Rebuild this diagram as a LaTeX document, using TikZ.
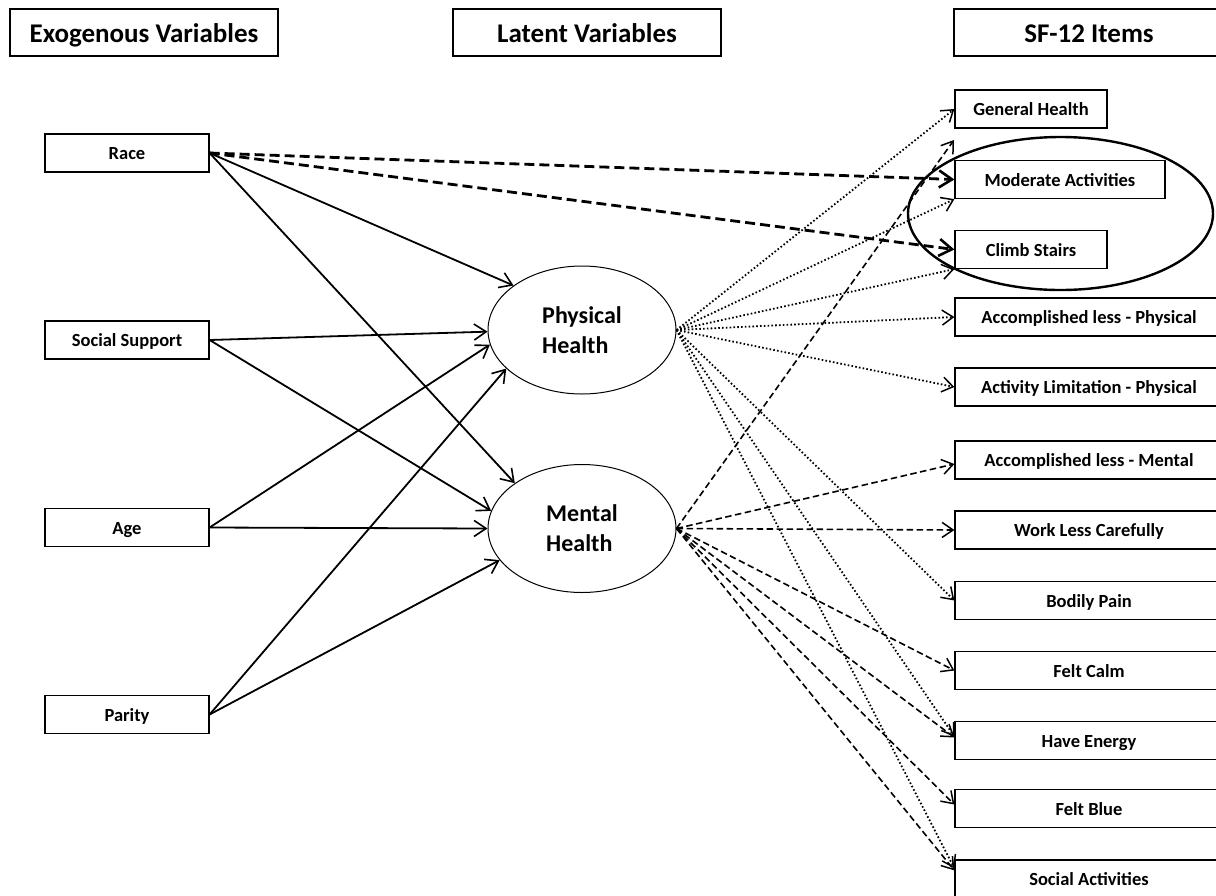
\documentclass[tikz,border=0pt]{standalone}
\usepackage{fontspec}
\setmainfont{Carlito}
\usetikzlibrary{arrows.meta,shapes.geometric}
\begin{document}
\begin{tikzpicture}[x=1pt,y=-1pt,
  hdr/.style={draw, line width=1.3pt, fill=white, minimum height=47pt, inner sep=0pt, text height=20pt, text depth=0pt, font=\fontsize{27}{30}\selectfont\bfseries},
  exo/.style={draw, line width=1.2pt, fill=white, minimum width=164pt, minimum height=38pt, inner sep=0pt, text height=13.5pt, text depth=0pt, font=\fontsize{18.5}{20}\selectfont\bfseries},
  item/.style={draw, line width=1.2pt, fill=white, minimum width=268pt, minimum height=38pt, inner sep=0pt, text height=13.5pt, text depth=0pt, font=\fontsize{18.5}{20}\selectfont\bfseries},
  itemshort/.style={item, minimum width=152pt},
  latent/.style={draw, ellipse, line width=1pt, minimum width=188pt, minimum height=128pt, inner sep=0pt, align=left, font=\fontsize{24}{30}\selectfont\bfseries},
  solidarr/.style={line width=1.8pt, -{Straight Barb[length=12pt,width=16pt,line width=1.6pt]}},
  racearr/.style={line width=2.8pt, dash pattern=on 10pt off 5pt, -{Straight Barb[length=13pt,width=17pt,line width=2.6pt]}},
  dotarr/.style={line width=1.8pt, dash pattern=on 1.6pt off 2.2pt, -{Straight Barb[length=11pt,width=15pt,line width=1.5pt]}},
  dasharr/.style={line width=1.6pt, dash pattern=on 6.5pt off 3.5pt, -{Straight Barb[length=11pt,width=15pt,line width=1.5pt]}},
  bigring/.style={draw, line width=2.4pt}
]
\clip (0,0) rectangle (1216,895);
\fill[white] (0,0) rectangle (1216,895);

% headers
\node[hdr, minimum width=268pt] (hexo) at (144,32.5) {Exogenous Variables};
\node[hdr, minimum width=268pt] (hlat) at (587,32.5) {Latent Variables};
\node[hdr, minimum width=270pt] (hsf) at (1089,32.5) {SF-12 Items};

% exogenous
\node[exo] (race) at (127,153) {Race};
\node[exo] (ss) at (127,340) {Social Support};
\node[exo] (age) at (127,527.5) {Age};
\node[exo] (par) at (127,714.5) {Parity};

% latent
\node[latent] (phys) at (582,330) {Physical\\Health};
\node[latent] (ment) at (582,528.5) {Mental\\Health};

% items
\node[itemshort] (gh) at (1031,109) {General Health};
\node[item, minimum width=210pt] (ma) at (1060,179.5) {Moderate Activities};
\node[itemshort] (cs) at (1031,249.5) {Climb Stairs};
\node[item] (alp) at (1089,317) {Accomplished less - Physical};
\node[item] (alip) at (1089,387) {Activity Limitation - Physical};
\node[item] (alm) at (1089,460) {Accomplished less - Mental};
\node[item] (wlc) at (1089,530) {Work Less Carefully};
\node[item] (bp) at (1089,600.5) {Bodily Pain};
\node[item] (fc) at (1089,670.5) {Felt Calm};
\node[item] (he) at (1089,740.5) {Have Energy};
\node[item] (fb) at (1089,808.5) {Felt Blue};
\node[item] (sa) at (1089,879) {Social Activities};

\coordinate (ghlow) at (954,140);

% solid paths
\draw[solidarr] (race.east) -- (phys.147);
\draw[solidarr] (race.east) -- (ment.146);
\draw[solidarr] (ss.east) -- (phys.181);
\draw[solidarr] (ss.east) -- (ment.169);
\draw[solidarr] (age.east) -- (phys.189);
\draw[solidarr] (age.east) -- (ment.180);
\draw[solidarr] (par.east) -- (phys.207);
\draw[solidarr] (par.east) -- (ment.201);

% race direct effects
\draw[racearr] (race.east) -- (ma.west);
\draw[racearr] (race.east) -- (cs.west);

% physical loadings
\draw[dotarr] (phys.east) -- (gh.west);
\draw[dotarr] (phys.east) -- (ma.south west);
\draw[dotarr] (phys.east) -- (cs.south west);
\draw[dotarr] (phys.east) -- (alp.west);
\draw[dotarr] (phys.east) -- (alip.west);
\draw[dotarr] (phys.east) -- (bp.west);
\draw[dotarr] (phys.east) -- ([yshift=4pt]he.west);
\draw[dotarr] (phys.east) -- ([yshift=-9pt]sa.north west);

% mental loadings
\draw[dasharr] (ment.east) -- (ghlow);
\draw[dasharr] (ment.east) -- ([yshift=-4pt]alm.west);
\draw[dasharr] (ment.east) -- (wlc.west);
\draw[dasharr] (ment.east) -- (fc.west);
\draw[dasharr] (ment.east) -- ([yshift=3pt]he.west);
\draw[dasharr] (ment.east) -- ([yshift=4pt]fb.west);
\draw[dasharr] (ment.east) -- ([yshift=-11pt]sa.north west);

% highlight ring
\draw[bigring] (1060.5,213.5) ellipse [x radius=152.5pt, y radius=76.5pt];
\end{tikzpicture}
\end{document}
